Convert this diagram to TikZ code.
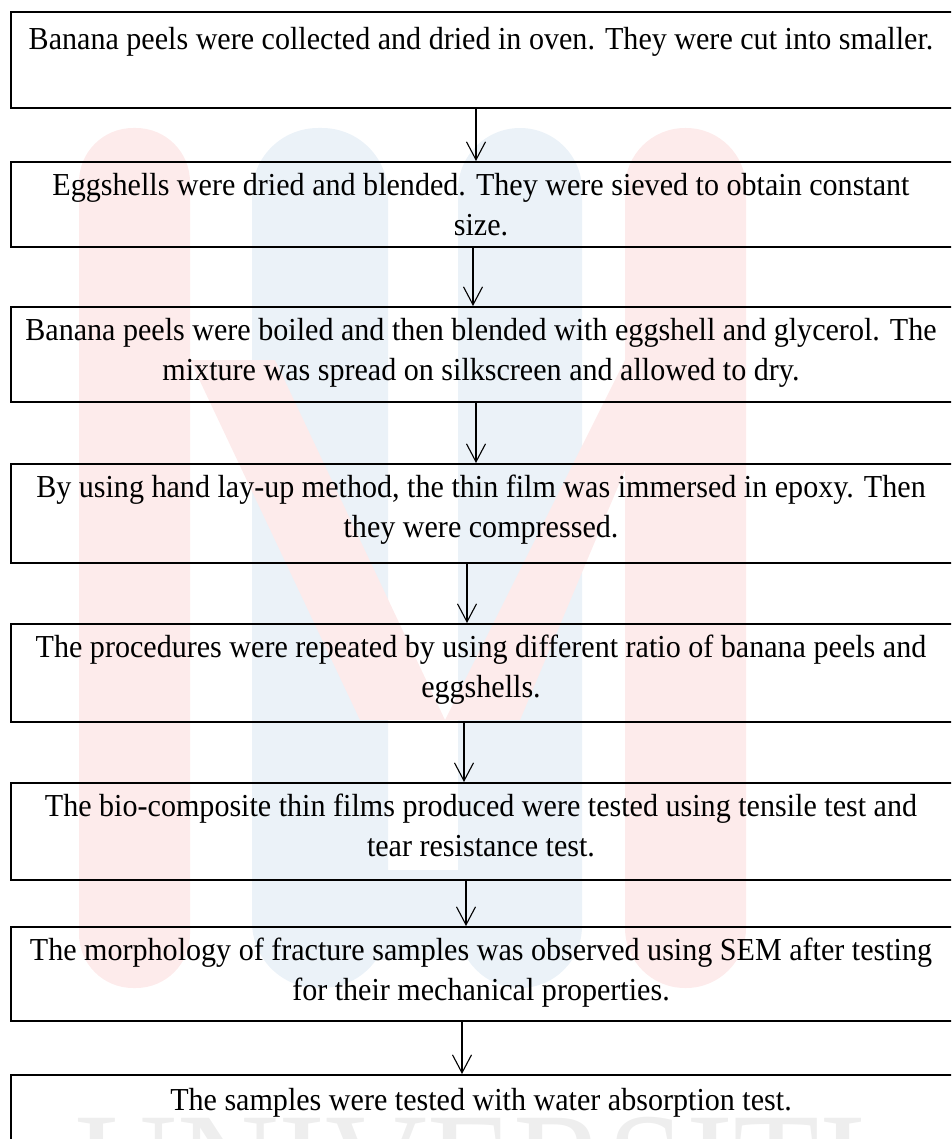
\documentclass[tikz,border=0pt]{standalone}
\usepackage{fontspec}
\usetikzlibrary{arrows.meta}
\newfontfamily\tnr[FakeStretch=0.94]{Liberation Serif}
\definecolor{wmred}{RGB}{253,235,235}
\definecolor{wmblue}{RGB}{235,242,248}
\definecolor{wmgray}{RGB}{238,238,238}
\tikzset{
  stepbox/.style={draw=black, line width=1.6pt, fill=none, inner sep=0pt, anchor=north west},
  steptext/.style={anchor=north, inner sep=0pt, align=center, font=\tnr\fontsize{32}{40}\selectfont,
    execute at begin node={\rule{0pt}{26pt}}},
  flow/.style={draw=black, line width=1.1pt, -{Straight Barb[length=18pt,width=19pt]}}
}
\begin{document}
\begin{tikzpicture}[x=1pt,y=-1pt]
\useasboundingbox (0,0) rectangle (951,1139);
\clip (0,0) rectangle (951,1139);
% watermark (faint logo)
\fill[wmred, rounded corners=54] (79,128) rectangle (190,988);
\fill[wmred, rounded corners=60] (625,128) rectangle (746,988);
\fill[wmblue, rounded corners=66] (252,128) rectangle (388,988);
\fill[wmblue, rounded corners=62] (458,128) rectangle (582,988);
\fill[wmblue] (330,870) rectangle (520,960);
\fill[wmred] (190,360) -- (275,360) -- (445,720) -- (360,720) -- cycle;
\fill[wmred] (625,360) -- (625,470) -- (520,720) -- (445,720) -- cycle;
\node[wmgray, anchor=north west, inner sep=0pt, font=\tnr\fontsize{150}{150}\selectfont] (wm) at (75,1117) {UNIVERSITI};
% boxes
\node[stepbox, minimum width=944pt, minimum height=96pt] (b1) at (10,11) {};
\node[stepbox, minimum width=944pt, minimum height=85pt] (b2) at (10,161) {};
\node[stepbox, minimum width=944pt, minimum height=95pt] (b3) at (10,306) {};
\node[stepbox, minimum width=944pt, minimum height=99pt] (b4) at (10,463) {};
\node[stepbox, minimum width=944pt, minimum height=98pt] (b5) at (10,623) {};
\node[stepbox, minimum width=944pt, minimum height=97pt] (b6) at (10,782) {};
\node[stepbox, minimum width=944pt, minimum height=94pt] (b7) at (10,926) {};
\node[stepbox, minimum width=944pt, minimum height=120pt] (b8) at (10,1074) {};
% texts
\node[steptext] (t1) at (481,23) {Banana peels were collected and dried in oven. They were cut into smaller.};
\node[steptext] (t2) at (481,173) {Eggshells were dried and blended. They were sieved to obtain constant\\size.};
\node[steptext] (t3) at (481,318) {Banana peels were boiled and then blended with eggshell and glycerol. The\\mixture was spread on silkscreen and allowed to dry.};
\node[steptext] (t4) at (481,475) {By using hand lay-up method, the thin film was immersed in epoxy. Then\\they were compressed.};
\node[steptext] (t5) at (481,635) {The procedures were repeated by using different ratio of banana peels and\\eggshells.};
\node[steptext] (t6) at (481,794) {The bio-composite thin films produced were tested using tensile test and\\tear resistance test.};
\node[steptext] (t7) at (481,938) {The morphology of fracture samples was observed using SEM after testing\\for their mechanical properties.};
\node[steptext] (t8) at (481,1084) {The samples were tested with water absorption test.};
% arrows
\draw[flow] (b1.south -| 476,0) -- (b2.north -| 476,0);
\draw[flow] (b2.south -| 473,0) -- (b3.north -| 473,0);
\draw[flow] (b3.south -| 476,0) -- (b4.north -| 476,0);
\draw[flow] (b4.south -| 467,0) -- (b5.north -| 467,0);
\draw[flow] (b5.south -| 464,0) -- (b6.north -| 464,0);
\draw[flow] (b6.south -| 466,0) -- (b7.north -| 466,0);
\draw[flow] (b7.south -| 462,0) -- (b8.north -| 462,0);
\end{tikzpicture}
\end{document}
